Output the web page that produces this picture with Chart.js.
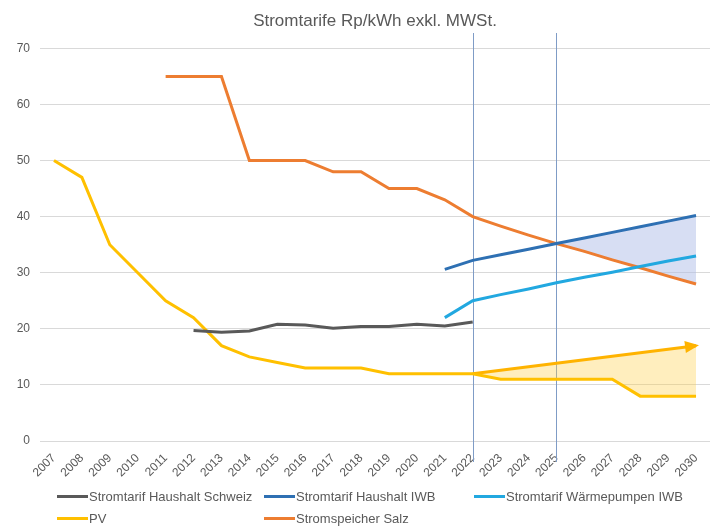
<!DOCTYPE html>
<html>
<head>
<meta charset="utf-8">
<script src="https://cdn.jsdelivr.net/npm/chart.js@4"></script>
<style>
  html, body { margin: 0; padding: 0; background: #fff; }
  #wrap { position: relative; width: 715px; height: 529px; }
  #legend { position: absolute; left: 0; top: 0; width: 715px; height: 529px; pointer-events: none;
    font-family: "Liberation Sans", Arial, sans-serif; font-size: 13px; color: #595959; }
  .item { position: absolute; display: flex; align-items: center; white-space: nowrap; }
  .item span.sw { display: inline-block; width: 31px; height: 3px; margin-right: 1px; }
</style>
</head>
<body>
<div id="wrap">
  <canvas id="chart" width="715" height="529"></canvas>
  <div id="legend"></div>
</div>
<script>
var years = ["2007", "2008", "2009", "2010", "2011", "2012", "2013", "2014", "2015", "2016", "2017", "2018",
  "2019", "2020", "2021", "2022", "2023", "2024", "2025", "2026", "2027", "2028", "2029", "2030"];

var haushaltSchweiz = [null, null, null, null, null, 19.7, 19.4, 19.6, 20.8, 20.7, 20.1, 20.4,
  20.4, 20.8, 20.5, 21.2, null, null, null, null, null, null, null, null];
var haushaltIWB = [null, null, null, null, null, null, null, null, null, null, null, null,
  null, null, 30.6, 32.2, 33.2, 34.2, 35.2, 36.2, 37.2, 38.2, 39.2, 40.2];
var waermepumpenIWB = [null, null, null, null, null, null, null, null, null, null, null, null,
  null, null, 22, 25, 26.1, 27.1, 28.2, 29.2, 30.1, 31.1, 32.1, 33];
var pv = [50, 47, 35, 30, 25, 22, 17, 15, 14, 13, 13, 13, 12, 12, 12, 12, 11, 11, 11, 11, 11, 8, 8, 8];
var salz = [null, null, null, null, 65, 65, 65, 50, 50, 50, 48, 48, 45, 45, 43, 40,
  38.3, 36.7, 35.2, 33.8, 32.3, 30.9, 29.4, 28];

// PV-Pfeil (Start/Ende)
var arrowYears = ["2022", "2030"];
var arrowValues = [12, 17];

var markYears = ["2022", "2025"];
var yTicks = [0, 10, 20, 30, 40, 50, 60, 70];

var names = ["Stromtarif Haushalt Schweiz", "Stromtarif Haushalt IWB", "Stromtarif Wärmepumpen IWB", "PV", "Stromspeicher Salz"];
var colors = ["#595959", "#2E70B3", "#22A8E0", "#FFC000", "#ED7D31"];

var FONT = '"Liberation Sans", Arial, sans-serif';

// blaue Fläche nur ab 2025
var iwbFill = haushaltIWB.map(function (v, i) { return years[i] >= "2025" ? v : null; });

var markLines = {
  id: "markLines",
  beforeDatasetsDraw: function (chart) {
    var ctx = chart.ctx, x = chart.scales.x;
    ctx.save();
    ctx.strokeStyle = "#7F9CC6";
    ctx.lineWidth = 1;
    markYears.forEach(function (yr) {
      var px = Math.round(x.getPixelForValue(years.indexOf(yr))) + 0.5;
      ctx.beginPath();
      ctx.moveTo(px, 33);
      ctx.lineTo(px, 462);
      ctx.stroke();
    });
    ctx.restore();
  }
};

var arrowHead = {
  id: "arrowHead",
  afterDatasetsDraw: function (chart) {
    var meta = chart.getDatasetMeta(5);
    var p0 = meta.data[0], p1 = meta.data[meta.data.length - 1];
    var a = Math.atan2(p1.y - p0.y, p1.x - p0.x);
    var ctx = chart.ctx;
    ctx.save();
    ctx.fillStyle = "#FFB300";
    ctx.translate(p1.x, p1.y);
    ctx.rotate(a);
    ctx.beginPath();
    ctx.moveTo(3, 0);
    ctx.lineTo(-11, -6);
    ctx.lineTo(-11, 6);
    ctx.closePath();
    ctx.fill();
    ctx.restore();
  }
};

function line(label, data, color) {
  return { label: label, data: data, borderColor: color, backgroundColor: color, borderWidth: 3,
    pointRadius: 0, fill: false, tension: 0 };
}

var canvasElement = document.getElementById("chart");
var config = {
  type: "line",
  data: {
    labels: years,
    datasets: [
      line(names[0], haushaltSchweiz, colors[0]),
      line(names[1], haushaltIWB, colors[1]),
      line(names[2], waermepumpenIWB, colors[2]),
      line(names[3], pv, colors[3]),
      line(names[4], salz, colors[4]),
      {
        label: "arrow",
        data: arrowYears.map(function (y, i) { return { x: y, y: arrowValues[i] }; }),
        borderColor: "#FFB300", borderWidth: 3, pointRadius: 0,
        fill: { target: 3 }, backgroundColor: "rgba(255, 205, 70, 0.35)"
      },
      {
        label: "iwbFill",
        data: iwbFill,
        borderWidth: 0, borderColor: "rgba(0,0,0,0)", pointRadius: 0,
        fill: { target: 4 }, backgroundColor: "rgba(175, 190, 232, 0.5)"
      }
    ]
  },
  options: {
    responsive: false,
    animation: false,
    layout: { padding: { left: 0, right: 5, bottom: 48, top: 0 } },
    plugins: {
      legend: { display: false },
      tooltip: { enabled: false },
      title: {
        display: true,
        fullSize: false,
        text: "Stromtarife Rp/kWh exkl. MWSt.",
        color: "#595959",
        font: { family: FONT, size: 17, weight: "normal" },
        padding: { top: 11, bottom: 17 }
      }
    },
    scales: {
      x: {
        offset: true,
        grid: { display: false },
        border: { display: false },
        ticks: { color: "#595959", font: { family: FONT, size: 12 }, minRotation: 45, maxRotation: 45, padding: 2, autoSkip: false },
        afterFit: function (s) { s.height = 40; }
      },
      y: {
        min: 0,
        max: 70,
        afterBuildTicks: function (s) { s.ticks = yTicks.map(function (v) { return { value: v }; }); },
        grid: { color: "#D9D9D9", lineWidth: 1, drawTicks: false },
        border: { display: false },
        ticks: { color: "#595959", font: { family: FONT, size: 12 }, padding: 10 },
        afterFit: function (s) { s.width = 40; }
      }
    }
  },
  plugins: [markLines, arrowHead]
};

var chart = new Chart(canvasElement, config);

// Legende
var legendPos = [[57, 497], [264, 497], [474, 497], [57, 519], [264, 519]];
var legendEl = document.getElementById("legend");
names.forEach(function (n, i) {
  var d = document.createElement("div");
  d.className = "item";
  d.style.left = legendPos[i][0] + "px";
  d.style.top = (legendPos[i][1] - 8) + "px";
  d.innerHTML = '<span class="sw" style="background:' + colors[i] + '"></span>' + n;
  legendEl.appendChild(d);
});
</script>
</body>
</html>
